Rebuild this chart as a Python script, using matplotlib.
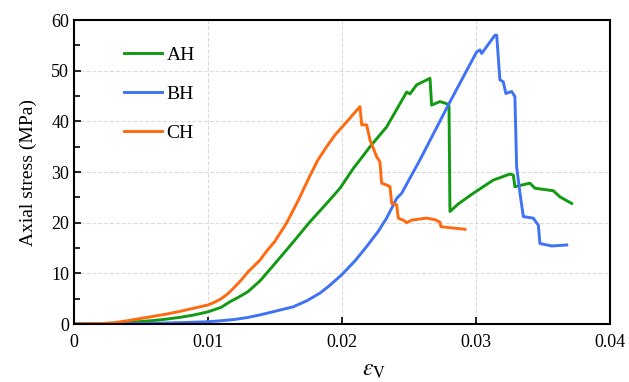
import matplotlib
matplotlib.use('Agg')
import matplotlib.pyplot as plt
from matplotlib.ticker import MultipleLocator

plt.rcParams['font.family'] = ['Liberation Serif', 'DejaVu Serif']
plt.rcParams['mathtext.fontset'] = 'stix'

# AH curve
ah_x = [0, 0.002, 0.003, 0.004, 0.005, 0.006, 0.007, 0.008, 0.009, 0.010, 0.011,
        0.01165, 0.0123, 0.0130, 0.01389, 0.0150, 0.01638, 0.0176,
        0.01887, 0.01987, 0.02086, 0.02136, 0.02211, 0.02335, 0.02435, 0.02485,
        0.02509, 0.02559, 0.02621, 0.02659, 0.02671, 0.02733, 0.02783, 0.02801,
        0.02808, 0.02870, 0.02982, 0.03131, 0.03256, 0.03281, 0.03293, 0.03405,
        0.03443, 0.03580, 0.03629, 0.03717]
ah_y = [0, 0.05, 0.15, 0.3, 0.5, 0.7, 1.0, 1.35, 1.8, 2.4, 3.3,
        4.4, 5.3, 6.4, 8.5, 11.9, 16.2, 20.1,
        23.8, 26.8, 30.7, 32.4, 35.0, 38.9, 43.5, 45.8,
        45.4, 47.2, 48.0, 48.5, 43.2, 43.9, 43.5, 43.0,
        22.2, 23.7, 25.8, 28.4, 29.6, 29.4, 27.1, 27.8,
        26.8, 26.3, 25.1, 23.8]

# BH curve
bh_x = [0, 0.002, 0.004, 0.006, 0.008, 0.010, 0.011, 0.012, 0.013, 0.01389,
        0.0150, 0.01638, 0.0174, 0.01837, 0.0190, 0.01999, 0.0210, 0.02186,
        0.0227, 0.02335, 0.02410, 0.02447, 0.02584, 0.02795, 0.03007, 0.03032,
        0.03045, 0.03144, 0.03157, 0.03181, 0.03206, 0.03226, 0.03269, 0.03293,
        0.03306, 0.03331, 0.03356, 0.03430, 0.03468, 0.03480, 0.03568, 0.03680]
bh_y = [0, 0.02, 0.06, 0.15, 0.28, 0.45, 0.65, 0.9, 1.3, 1.8,
        2.5, 3.4, 4.6, 6.1, 7.4, 9.7, 12.5, 15.3,
        18.2, 20.9, 24.8, 25.8, 32.4, 43.2, 53.7, 54.1,
        53.4, 57.0, 57.0, 48.2, 47.8, 45.5, 45.9, 44.9,
        31.0, 25.8, 21.2, 20.9, 19.5, 15.9, 15.4, 15.6]

# CH curve
ch_x = [0, 0.002, 0.003, 0.004, 0.005, 0.006, 0.007, 0.008, 0.009, 0.010, 0.0105,
        0.011, 0.0115, 0.0120, 0.0125, 0.0130, 0.01389, 0.01439, 0.0150,
        0.01589, 0.01675, 0.01763, 0.0182, 0.01887, 0.01949, 0.02037, 0.02099,
        0.02136, 0.02149, 0.02186, 0.02211, 0.02261, 0.02285, 0.02298, 0.02347,
        0.02360, 0.02373, 0.02410, 0.02422, 0.02459, 0.02485, 0.02522, 0.02634,
        0.02696, 0.02733, 0.02741, 0.02920]
ch_y = [0, 0.1, 0.25, 0.65, 1.1, 1.55, 2.0, 2.55, 3.15, 3.75, 4.3,
        5.0, 6.0, 7.3, 8.7, 10.3, 12.6, 14.4, 16.3,
        20.0, 24.4, 29.3, 32.3, 35.0, 37.3, 39.9, 41.8,
        42.9, 39.3, 39.3, 36.3, 33.0, 32.0, 27.8, 27.3,
        27.1, 23.8, 23.5, 20.9, 20.5, 20.0, 20.5, 20.9,
        20.6, 20.1, 19.2, 18.7]

fig = plt.figure(figsize=(6.29, 3.82), dpi=100)
ax = fig.add_axes([0.1176, 0.1518, 0.8515, 0.7958])

ax.plot(ah_x, ah_y, color='#129a12', lw=2.1, label='AH')
ax.plot(bh_x, bh_y, color='#3f72f5', lw=2.1, label='BH')
ax.plot(ch_x, ch_y, color='#ff6a10', lw=2.1, label='CH')

ax.set_xlim(0, 0.04)
ax.set_ylim(0, 60)
ax.yaxis.set_major_locator(MultipleLocator(10))
ax.yaxis.set_minor_locator(MultipleLocator(5))
ax.set_xticks([0, 0.01, 0.02, 0.03, 0.04])
ax.set_xticklabels(['0', '0.01', '0.02', '0.03', '0.04'])
ax.tick_params(direction='in', which='both', labelsize=13, width=1.2)
ax.tick_params(which='major', length=5)
ax.tick_params(which='minor', length=4)
ax.tick_params(axis='x', pad=7)
ax.grid(True, which='major', ls='--', color='#dcdcdc', lw=0.8)
for s in ax.spines.values():
    s.set_linewidth(1.5)

ax.set_xlabel(r'$\varepsilon_{\rm V}$', fontsize=17)
ax.xaxis.set_label_coords(0.56, -0.12)
ax.set_ylabel('Axial stress (MPa)', fontsize=14, labelpad=10)

ax.legend(loc='upper left', bbox_to_anchor=(0.06, 0.97), frameon=False,
          fontsize=14, handlelength=2.0, labelspacing=1.1, handletextpad=0.2)

fig.savefig('out.png', dpi=100)
